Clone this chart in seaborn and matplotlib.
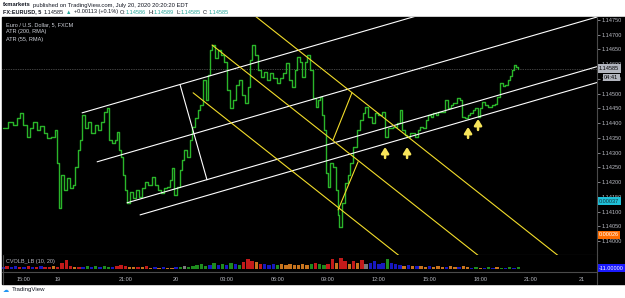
import numpy as np
import matplotlib
matplotlib.use('Agg')
import matplotlib.pyplot as plt
import seaborn as sns
from matplotlib.lines import Line2D
from matplotlib.patches import Rectangle
from matplotlib.offsetbox import TextArea, HPacker, AnnotationBbox

# EURUSD 5 min, hours counted from Jul 20 00:00 (trading time)
hours = [-10.24, -9.94, -9.64, -9.41, -9.23, -9.05, -8.82, -8.64, -8.46, -8.22,
         -8.05, -7.81, -7.63, -7.40, -7.16, -7.04, -6.92, -6.80, -6.63, -6.45,
         -6.27, -6.09, -5.98, -5.80, -5.68, -5.56, -5.38, -5.21, -5.03, -4.79,
         -4.62, -4.44, -4.26, -4.08, -3.96, -3.79, -3.61, -3.49, -3.37, -3.25,
         -3.14, -3.02, -2.90, -2.72, -2.54, -2.37, -2.19, -2.01, -1.83, -1.66,
         -1.42, -1.24, -1.07, -0.89, -0.71, -0.53, -0.36, -0.24, -0.12, 0.06,
         0.24, 0.36, 0.47, 0.65, 0.83, 0.95, 1.12, 1.30, 1.42, 1.60,
         1.78, 1.89, 2.01, 2.13, 2.31, 2.49, 2.66, 2.84, 3.02, 3.20,
         3.37, 3.55, 3.73, 3.91, 4.08, 4.26, 4.38, 4.50, 4.67, 4.85,
         5.03, 5.21, 5.38, 5.56, 5.74, 5.98, 6.15, 6.33, 6.51, 6.69,
         6.86, 7.04, 7.16, 7.34, 7.46, 7.63, 7.75, 7.93, 8.11, 8.28,
         8.40, 8.52, 8.64, 8.76, 8.88, 8.99, 9.11, 9.29, 9.47, 9.59,
         9.64, 9.82, 10.00, 10.18, 10.30, 10.47, 10.71, 10.89, 11.07, 11.18,
         11.36, 11.60, 11.78, 11.95, 12.19, 12.37, 12.54, 12.84, 13.08, 13.25,
         13.37, 13.55, 13.67, 13.85, 14.02, 14.14, 14.32, 14.44, 14.62, 14.79,
         14.91, 15.09, 15.21, 15.38, 15.50, 15.74, 15.92, 16.09, 16.27, 16.39,
         16.63, 16.80, 16.92, 17.10, 17.28, 17.40, 17.57, 17.69, 17.87, 17.99,
         18.11, 18.28, 18.46, 18.70, 18.88, 19.00, 19.17, 19.35, 19.47, 19.64,
         19.76, 19.88, 20.00, 20.12, 20.24]
price = [1.14384, 1.14404, 1.14394, 1.14418, 1.14435, 1.14394, 1.14353, 1.14384, 1.14404, 1.14377,
         1.14391, 1.14367, 1.14350, 1.14353, 1.14377, 1.14265, 1.14113, 1.14225, 1.14174, 1.14214,
         1.14180, 1.14191, 1.14252, 1.14309, 1.14343, 1.14428, 1.14384, 1.14404, 1.14367, 1.14394,
         1.14377, 1.14404, 1.14438, 1.14452, 1.14343, 1.14333, 1.14343, 1.14370, 1.14309, 1.14286,
         1.14225, 1.14174, 1.14130, 1.14167, 1.14147, 1.14174, 1.14150, 1.14180, 1.14201, 1.14191,
         1.14218, 1.14191, 1.14174, 1.14164, 1.14180, 1.14184, 1.14208, 1.14248, 1.14157, 1.14184,
         1.14242, 1.14275, 1.14309, 1.14286, 1.14343, 1.14387, 1.14418, 1.14445, 1.14462, 1.14547,
         1.14479, 1.14564, 1.14648, 1.14665, 1.14621, 1.14648, 1.14631, 1.14608, 1.14513, 1.14452,
         1.14479, 1.14530, 1.14547, 1.14496, 1.14469, 1.14523, 1.14614, 1.14665, 1.14631, 1.14580,
         1.14557, 1.14574, 1.14547, 1.14570, 1.14553, 1.14536, 1.14553, 1.14570, 1.14604, 1.14547,
         1.14523, 1.14580, 1.14625, 1.14608, 1.14557, 1.14608, 1.14631, 1.14580, 1.14486, 1.14455,
         1.14479, 1.14489, 1.14428, 1.14377, 1.14231, 1.14184, 1.14265, 1.14252, 1.14174, 1.14089,
         1.14048, 1.14130, 1.14197, 1.14225, 1.14265, 1.14320, 1.14377, 1.14411, 1.14435, 1.14455,
         1.14421, 1.14401, 1.14435, 1.14428, 1.14438, 1.14353, 1.14384, 1.14387, 1.14401, 1.14445,
         1.14377, 1.14360, 1.14353, 1.14367, 1.14367, 1.14353, 1.14377, 1.14387, 1.14384, 1.14411,
         1.14428, 1.14421, 1.14435, 1.14428, 1.14438, 1.14438, 1.14479, 1.14452, 1.14462, 1.14469,
         1.14486, 1.14479, 1.14421, 1.14418, 1.14428, 1.14435, 1.14445, 1.14452, 1.14421, 1.14452,
         1.14472, 1.14462, 1.14455, 1.14462, 1.14465, 1.14489, 1.14536, 1.14526, 1.14530, 1.14547,
         1.14560, 1.14580, 1.14597, 1.14591, 1.14585]

# CVOLB volume pane, one bar per 15 min from 17 Jul 13:45
vol_height = [2, 3, 2, 3, 2, 2, 3, 2, 2, 3, 2, 2, 3, 2, 6, 9, 3, 2, 2,
              2, 3, 2, 3, 2, 3, 2, 2, 3, 4, 3, 2, 2, 2, 2, 3,
              1, 2, 1, 2, 1, 1, 2, 2, 3, 2, 3, 4, 5, 3, 4, 6,
              4, 5, 4, 6, 5, 4, 7, 10, 8, 7, 5, 5, 4, 5, 4,
              5, 4, 5, 4, 4, 5, 4, 5, 6, 5, 4, 5, 10, 6, 11, 8, 5,
              8, 6, 9, 5, 6, 8, 5, 6, 10, 6, 5, 4, 3, 4, 3, 3,
              3, 2, 3, 2, 3, 2, 2, 3, 2, 2, 3, 2,
              1, 2, 1, 1, 2, 1, 2, 1, 1, 2, 1, 2]
vol_color = ("brbbr" "brbrb" "rror" "rr" "ror" "bgbgbggb" "rrro" "oror" "oboboob"
             "gkggg" "ggbg" "bgbgbg" "rrror" "bbbg" "ooooooo" "grggr" "rorro" "rork"
             "bbbbgbb" "bobob" "oobooobooboo" "bgobgbogbgbg")
vol_palette = {'r': '#c21a1a', 'g': '#1e8c1e', 'b': '#1818c0', 'o': '#c8741e', 'k': '#7a7a7a'}

time_ticks = [-9, -7, -3, 0, 3, 6, 9, 12, 15, 18, 21, 24]
time_labels = ['15:00', '19', '21:00', '20', '03:00', '06:00', '09:00',
               '12:00', '15:00', '18:00', '21:00', '21']
price_ticks = [1.14000, 1.14050, 1.14100, 1.14150, 1.14200, 1.14250, 1.14300, 1.14350,
               1.14400, 1.14450, 1.14500, 1.14550, 1.14600, 1.14650, 1.14700, 1.14750]

# drawings: ascending white channel, descending yellow channel, arrows
chan_t = [-5.56, -4.67, -2.90, -2.13]
chan_p = [1.14435, 1.14269, 1.14130, 1.14089]
chan_slope = 0.000166          # price per hour
chan_handle = [(0.24, 1.14530), (1.83, 1.14208)]
fork_t = [3.25, 2.13, 1.01]
fork_p = [1.14828, 1.14665, 1.14503]
fork_slope = -0.000453
fork_handles = [[(10.41, 1.14503), (9.29, 1.14343)], [(10.77, 1.14269), (9.59, 1.14106)]]
arrow_t = [12.37, 13.67, 17.28, 17.87]
arrow_tip = [1.14319, 1.14319, 1.14387, 1.14414]
arrow_len = 0.00037

last_price = 1.14585
atr200 = 1.14136
atr55 = 1.14021

sns.set_theme(style='dark')
plt.rcParams['font.family'] = ['Liberation Sans', 'DejaVu Sans']

W, H = 625, 298
fig = plt.figure(figsize=(W / 100, H / 100), dpi=100, facecolor='white')

def fb(x0, y0, x1, y1):
    # pixel box -> figure fraction rect
    return [x0 / W, 1 - y1 / H, (x1 - x0) / W, (y1 - y0) / H]

fig.patches.append(Rectangle((2 / W, 1 - 284 / H), 623 / W, 267 / H,
                             transform=fig.transFigure, color='black', zorder=-5))

ax = fig.add_axes(fb(2, 17, 597, 255))
vax = fig.add_axes(fb(2, 255, 597, 272), sharex=ax)
xmin, xmax = -10.3, 24.91
ymin, ymax = 1.13953, 1.14760
tick_col = '#b8bac2'
sep_col = '#4a4a4a'

for a in (ax, vax):
    a.set_facecolor('black')
    a.grid(False)
    for s in a.spines.values():
        s.set_visible(False)
    a.spines['bottom'].set_visible(True)
    a.spines['bottom'].set_color(sep_col)
    a.spines['bottom'].set_linewidth(0.8)

ax.set_xlim(xmin, xmax)
ax.set_ylim(ymin, ymax)

# price
sns.lineplot(x=hours, y=price, ax=ax, color='#2ab52a', lw=1.0,
             drawstyle='steps-post', errorbar=None, zorder=3)
ax.axhline(last_price, color='#808080', lw=0.5, ls=(0, (1, 1.5)), zorder=2)

# white channel
for t0, p0 in zip(chan_t, chan_p):
    ax.plot([t0, xmax], [p0, p0 + chan_slope * (xmax - t0)], color='white', lw=0.8, zorder=4)
ax.plot([chan_handle[0][0], chan_handle[1][0]], [chan_handle[0][1], chan_handle[1][1]],
        color='white', lw=0.8, zorder=4)

# yellow channel
for t0, p0 in zip(fork_t, fork_p):
    t1 = t0 + (p0 - ymin) / -fork_slope + 1
    ax.plot([t0, t1], [p0, p0 + fork_slope * (t1 - t0)], color='#f2dc2a', lw=0.8, zorder=4)
for seg in fork_handles:
    ax.plot([seg[0][0], seg[1][0]], [seg[0][1], seg[1][1]], color='#f2dc2a', lw=0.8, zorder=4)

for t, p in zip(arrow_t, arrow_tip):
    ax.annotate('', xy=(t, p), xytext=(t, p - arrow_len),
                arrowprops=dict(arrowstyle='-|>,head_length=0.35,head_width=0.22',
                                color='#f7e45a', lw=1.8, mutation_scale=10,
                                shrinkA=0, shrinkB=0), zorder=5)

# price scale
ax.yaxis.tick_right()
ax.set_yticks(price_ticks)
ax.set_yticklabels(['%.5f' % v for v in price_ticks])
ax.tick_params(axis='y', colors=tick_col, labelsize=4, length=2, width=0.5, pad=1.5, right=True)
ax.tick_params(axis='x', bottom=False, labelbottom=False)

ytr = ax.get_yaxis_transform()
ax.text(1.003, last_price, '1.14585', transform=ytr, fontsize=4, color='black', va='center', ha='left',
        bbox=dict(boxstyle='square,pad=0.3', fc='#b2b5be', ec='none'), zorder=6, clip_on=False)
ax.annotate('04:41', xy=(1.012, last_price), xycoords=ytr, xytext=(0, -9), textcoords='offset pixels',
            fontsize=4, color='black', va='center', ha='left', zorder=7,
            bbox=dict(boxstyle='square,pad=0.2', fc='#b2b5be', ec='none'), annotation_clip=False)
ax.text(1.003, atr200, '0.00037', transform=ytr, fontsize=4, color='#10323a', va='center', ha='left',
        bbox=dict(boxstyle='square,pad=0.3', fc='#1fc0d8', ec='none'), zorder=6, clip_on=False)
ax.text(1.003, atr55, '0.00026', transform=ytr, fontsize=4, color='white', va='center', ha='left',
        bbox=dict(boxstyle='square,pad=0.3', fc='#ff6d00', ec='none'), zorder=6, clip_on=False)

# volume pane
vol_t = np.arange(len(vol_height)) * 0.25 - 10.25
vax.bar(vol_t, vol_height, width=0.2, color=[vol_palette[c] for c in vol_color], linewidth=0)
vax.set_ylim(-3, 14)
vax.set_yticks([])
vax.set_xticks(time_ticks)
vax.set_xticklabels(time_labels)
vax.tick_params(axis='x', colors=tick_col, labelsize=4, length=2, width=0.5, pad=1.5)
vax.text(1.003, 1, '-11.00000', transform=vax.get_yaxis_transform(), fontsize=4, color='white',
         va='center', ha='left', bbox=dict(boxstyle='square,pad=0.3', fc='#1a1aff', ec='none'),
         clip_on=False)
fig.text(6 / W, 1 - 261 / H, 'CVOLB_LB (10, 20)', fontsize=4, color=tick_col, va='center')

# frame lines
fig.lines.append(Line2D([597 / W, 597 / W], [1 - 17 / H, 1 - 284 / H], transform=fig.transFigure,
                        color=sep_col, lw=0.8))
fig.lines.append(Line2D([2.5 / W, 2.5 / W], [1 - 255 / H, 1 - 284 / H], transform=fig.transFigure,
                        color=sep_col, lw=0.8))

# legend inside chart
for i, s in enumerate(['Euro / U.S. Dollar, 5, FXCM', 'ATR (200, RMA)', 'ATR (55, RMA)']):
    fig.text(6 / W, 1 - (25 + 7 * i) / H, s, fontsize=4, color='#d1d4dc', va='center')

# header
teal = '#26a69a'
dark = '#131722'
def line(groups, x, y, fs=4.0):
    # each group is packed tight, groups separated by a small gap
    outer = []
    for g in groups:
        boxes = [TextArea(s, textprops=dict(color=c, fontsize=fs, fontweight=fw)) for s, c, fw in g]
        outer.append(HPacker(children=boxes, pad=0, sep=0))
    pk = HPacker(children=outer, pad=0, sep=1.6)
    ab = AnnotationBbox(pk, (x / W, 1 - y / H), xycoords='figure fraction', box_alignment=(0, 0.5),
                        frameon=False, pad=0)
    fig.add_artist(ab)

line([[('fxmarkets', dark, 'bold')],
      [('published on TradingView.com, July 20, 2020 20:20:20 EDT', dark, 'normal')]], 3, 5, fs=4.2)
line([[('FX:EURUSD, 5', dark, 'bold')], [('1.14585', dark, 'normal')], [('▲', teal, 'normal')],
      [('+0.00113 (+0.1%)', dark, 'normal')],
      [('O:', dark, 'normal'), ('1.14586', teal, 'normal')],
      [('H:', dark, 'normal'), ('1.14589', teal, 'normal')],
      [('L:', dark, 'normal'), ('1.14585', teal, 'normal')],
      [('C:', dark, 'normal'), ('1.14585', teal, 'normal')]], 3, 12)
line([[('☁', '#2196f3', 'normal')], [('TradingView', dark, 'normal')]], 3, 290, fs=4.4)

fig.savefig('out.png', dpi=100, facecolor='white')
